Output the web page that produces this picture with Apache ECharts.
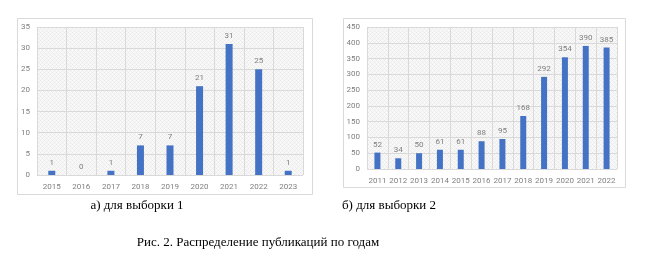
<!DOCTYPE html>
<html>
<head>
<meta charset="utf-8">
<script src="https://cdn.jsdelivr.net/npm/echarts@6/dist/echarts.min.js"></script>
<style>
  html, body { margin: 0; padding: 0; background: #ffffff; }
  #chart { width: 649px; height: 259px; }
</style>
</head>
<body>
<div id="chart"></div>
<script>
// Sample 1: publications per year
const years1 = ['2015', '2016', '2017', '2018', '2019', '2020', '2021', '2022', '2023'];
const counts1 = [1, 0, 1, 7, 7, 21, 31, 25, 1];

// Sample 2: publications per year
const years2 = ['2011', '2012', '2013', '2014', '2015', '2016', '2017', '2018', '2019', '2020', '2021', '2022'];
const counts2 = [52, 34, 50, 61, 61, 88, 95, 168, 292, 354, 390, 385];

const caption1 = 'а) для выборки 1';
const caption2 = 'б) для выборки 2';
const figureCaption = 'Рис. 2. Распределение публикаций по годам';

// Light diagonal cross-hatch used as the plot background
function hatchPattern() {
  const c = document.createElement('canvas');
  c.width = 4; c.height = 4;
  const g = c.getContext('2d');
  g.fillStyle = '#f8f8f8';
  g.fillRect(0, 0, 4, 4);
  g.fillStyle = '#e8e8e8';
  g.fillRect(0, 0, 1, 1);
  g.fillRect(2, 2, 1, 1);
  g.fillStyle = '#efefef';
  g.fillRect(1, 1, 1, 1);
  g.fillRect(3, 3, 1, 1);
  g.fillRect(3, 1, 1, 1);
  g.fillRect(1, 3, 1, 1);
  return { image: c, repeat: 'repeat' };
}

const barBlue = '#4472c4';
const textGray = '#7f7f7f';
const gridLine = '#d9d9d9';
const tickFont = { fontFamily: 'Roboto', fontSize: 8, color: textGray };

function catAxis(gridIndex, data) {
  return {
    type: 'category',
    gridIndex,
    data,
    axisLine: { show: false },
    axisTick: { show: false },
    splitLine: { show: true, interval: 0, lineStyle: { color: gridLine, width: 1 } },
    axisLabel: Object.assign({ margin: 8, interval: 0 }, tickFont)
  };
}

function valAxis(gridIndex, max, interval) {
  return {
    type: 'value',
    gridIndex,
    min: 0,
    max,
    interval,
    axisLine: { show: false },
    axisTick: { show: false },
    splitLine: { lineStyle: { color: gridLine, width: 1 } },
    axisLabel: Object.assign({ margin: 7 }, tickFont)
  };
}

const chart = echarts.init(document.getElementById('chart'), null, { renderer: 'canvas' });
const hatch = hatchPattern();

chart.setOption({
  animation: false,
  backgroundColor: '#ffffff',
  grid: [
    { left: 37, top: 27, width: 266, height: 148, show: true, backgroundColor: hatch, borderWidth: 0 },
    { left: 367, top: 27, width: 250, height: 142, show: true, backgroundColor: hatch, borderWidth: 0 }
  ],
  xAxis: [catAxis(0, years1), catAxis(1, years2)],
  yAxis: [valAxis(0, 35, 5), valAxis(1, 450, 50)],
  series: [
    {
      type: 'bar',
      xAxisIndex: 0,
      yAxisIndex: 0,
      data: counts1,
      barWidth: 7,
      itemStyle: { color: barBlue },
      label: { show: true, position: 'top', distance: 4, fontFamily: 'Roboto', fontSize: 8, color: textGray }
    },
    {
      type: 'bar',
      xAxisIndex: 1,
      yAxisIndex: 1,
      data: counts2,
      barWidth: 6,
      itemStyle: { color: barBlue },
      label: { show: true, position: 'top', distance: 4, fontFamily: 'Roboto', fontSize: 8, color: textGray }
    }
  ],
  graphic: [
    { type: 'rect', shape: { x: 17.5, y: 18.5, width: 295, height: 176 }, style: { fill: 'none', stroke: '#d9d9d9', lineWidth: 1 }, silent: true, z: -1 },
    { type: 'rect', shape: { x: 343.5, y: 18.5, width: 282, height: 169 }, style: { fill: 'none', stroke: '#d9d9d9', lineWidth: 1 }, silent: true, z: -1 },
    { type: 'text', x: 137, y: 206, style: { text: caption1, font: '13px "Liberation Serif"', fill: '#000', textAlign: 'center', textVerticalAlign: 'middle' } },
    { type: 'text', x: 389, y: 206, style: { text: caption2, font: '13px "Liberation Serif"', fill: '#000', textAlign: 'center', textVerticalAlign: 'middle' } },
    { type: 'text', x: 258, y: 243, style: { text: figureCaption, font: '13px "Liberation Serif"', fill: '#000', textAlign: 'center', textVerticalAlign: 'middle' } }
  ]
});
</script>
</body>
</html>
